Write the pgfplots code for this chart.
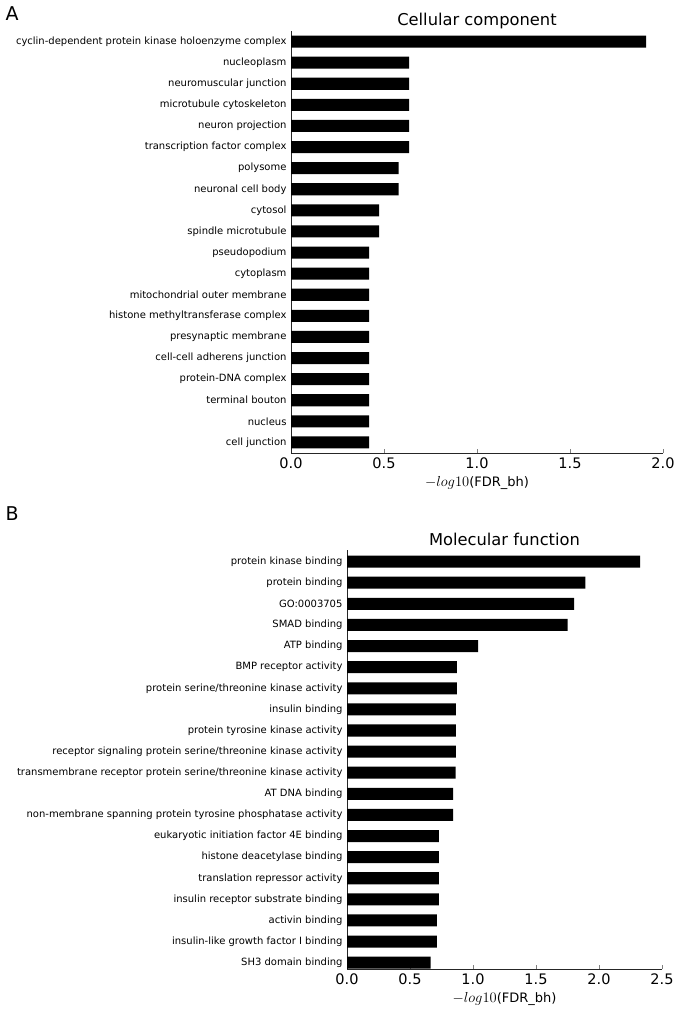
\documentclass[border=0pt]{standalone}
\usepackage{fix-cm}
\usepackage{fontspec}
\setmainfont{DejaVu Sans}
\usepackage{pgfplots}
\pgfplotsset{compat=1.18}
\pgfplotsset{
  goaxis/.style={
    scale only axis,
    xbar, bar width=0.57,
    axis x line*=bottom, axis y line*=left,
    axis line style={line width=0.9pt, black!85},
    tick align=inside,
    major tick length=4pt,
    xtick pos=bottom,
    ytick style={draw=none},
    ytick={0,...,19},
    xticklabel style={font=\fontsize{14.5}{14.5}\selectfont, yshift=-1pt},
    yticklabel style={font=\fontsize{10}{10}\selectfont, xshift=-1pt},
    xlabel style={font=\fontsize{13}{13}\selectfont, at={(axis description cs:0.5,0)}, anchor=center, yshift=-30pt},
    title style={font=\fontsize{16.3}{16.3}\selectfont, at={(axis description cs:0.5,1)}, anchor=base, yshift=0.5pt},
    xlabel={{\fontsize{14.5}{14.5}\selectfont$-log10$}(FDR\_bh)},
    xmin=0,
  },
}
\begin{document}
\begin{tikzpicture}
\useasboundingbox (0,0) rectangle (677pt,-1017pt);
\node[anchor=base west, font=\fontsize{19}{19}\selectfont] at (2pt,-20pt) {A};
\node[anchor=base west, font=\fontsize{19}{19}\selectfont] at (2pt,-520pt) {B};
\begin{axis}[goaxis,
  at={(291pt,-453pt)}, anchor=south west,
  width=372pt, height=422pt,
  xmax=2.0, ymin=-0.5, ymax=19.5,
  xtick={0,0.5,1.0,1.5,2.0},
  xticklabels={0.0,0.5,1.0,1.5,2.0},
  title={Cellular component},
  title style={yshift=-1pt},
  yticklabels={cell junction, nucleus, terminal bouton, protein-DNA complex, cell-cell adherens junction, presynaptic membrane, histone methyltransferase complex, mitochondrial outer membrane, cytoplasm, pseudopodium, spindle microtubule, cytosol, neuronal cell body, polysome, transcription factor complex, neuron projection, microtubule cytoskeleton, neuromuscular junction, nucleoplasm, cyclin-dependent protein kinase holoenzyme complex},
]
\addplot[fill=black, draw=none] coordinates {
(0.42,0) (0.42,1) (0.42,2) (0.42,3) (0.42,4) (0.42,5) (0.42,6) (0.42,7) (0.42,8) (0.42,9)
(0.474,10) (0.474,11) (0.578,12) (0.578,13) (0.635,14) (0.635,15) (0.635,16) (0.635,17) (0.635,18) (1.909,19)
};
\end{axis}
\begin{axis}[goaxis,
  at={(347pt,-969pt)}, anchor=south west,
  width=315pt, height=419pt,
  xmax=2.5, ymin=-0.3, ymax=19.55,
  xtick={0,0.5,1.0,1.5,2.0,2.5},
  xticklabels={0.0,0.5,1.0,1.5,2.0,2.5},
  title={Molecular function},
  title style={yshift=-1.5pt},
  yticklabels={SH3 domain binding, insulin-like growth factor I binding, activin binding, insulin receptor substrate binding, translation repressor activity, histone deacetylase binding, eukaryotic initiation factor 4E binding, non-membrane spanning protein tyrosine phosphatase activity, AT DNA binding, transmembrane receptor protein serine/threonine kinase activity, receptor signaling protein serine/threonine kinase activity, protein tyrosine kinase activity, insulin binding, protein serine/threonine kinase activity, BMP receptor activity, ATP binding, SMAD binding, GO:0003705, protein binding, protein kinase binding},
]
\addplot[fill=black, draw=none] coordinates {
(0.663,0) (0.713,1) (0.713,2) (0.729,3) (0.729,4) (0.729,5) (0.729,6) (0.843,7) (0.843,8) (0.862,9)
(0.864,10) (0.864,11) (0.864,12) (0.872,13) (0.872,14) (1.041,15) (1.75,16) (1.803,17) (1.892,18) (2.326,19)
};
\end{axis}
\end{tikzpicture}
\end{document}
